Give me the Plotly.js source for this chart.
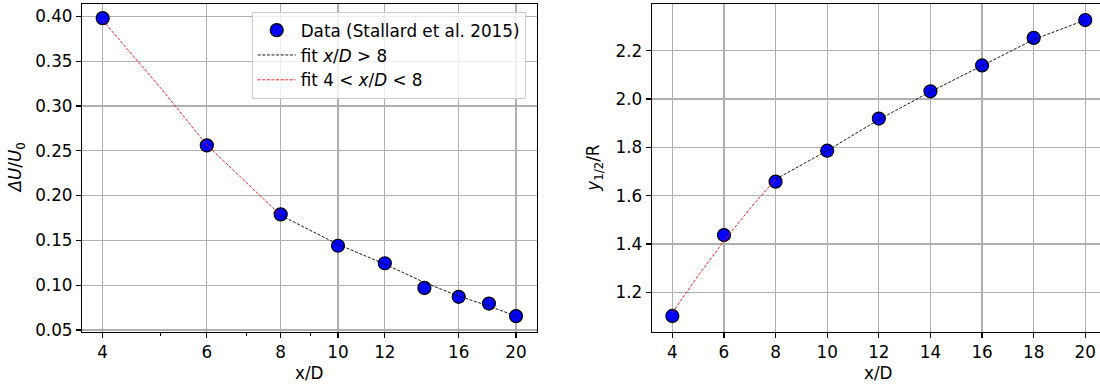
<!DOCTYPE html>
<html>
<head>
<meta charset="utf-8">
<script src="https://cdn.plot.ly/plotly-3.0.1.min.js"></script>
<style>html,body{margin:0;padding:0;background:#fff;}#chart{width:1100px;height:389px;}</style>
</head>
<body>
<div id="chart"></div>
<script>
// ---- data ----
const xData = [4, 6, 8, 10, 12, 14, 16, 18, 20];
const deficitData = [0.398, 0.256, 0.179, 0.144, 0.1245, 0.097, 0.087, 0.0795, 0.0655];
const halfWidthData = [1.102, 1.437, 1.658, 1.786, 1.919, 2.032, 2.139, 2.253, 2.327];

const xFitNear = [4, 5, 6, 7, 8];
const deficitFitNear = [0.3955, 0.321, 0.2565, 0.214, 0.178];
const halfWidthFitNear = [1.1156, 1.269, 1.4124, 1.545, 1.668];

const xFitFar = [8, 10, 12, 14, 16, 18, 20];
const deficitFitFar = [0.178, 0.1455, 0.1235, 0.103, 0.0878, 0.0767, 0.0655];
const halfWidthFitFar = [1.668, 1.786, 1.915, 2.03, 2.138, 2.246, 2.327];

const leftXTicks = [4, 6, 8, 10, 12, 16, 20];
const leftXMinor = [5, 7, 9];
const rightXTicks = [4, 6, 8, 10, 12, 14, 16, 18, 20];

const legendNames = ['Data (Stallard et al. 2015)', 'fit <i>x</i>/<i>D</i> &gt; 8', 'fit 4 &lt; <i>x</i>/<i>D</i> &lt; 8'];

// ---- styling ----
const W = 1100, H = 389;
const FONT = 'DejaVu Sans';
const FS = 16.8;
const px = v => v / W;
const py = v => 1 - v / H;

const markerStyle = {size: 13, color: '#0000ff', line: {color: '#000000', width: 1.2}};
const dashStyle = '3px,1.6px';

const traces = [
  {x: xData, y: deficitData, type: 'scatter', mode: 'markers', marker: markerStyle,
   name: legendNames[0], xaxis: 'x', yaxis: 'y', legendrank: 1},
  {x: xFitFar, y: deficitFitFar, type: 'scatter', mode: 'lines',
   line: {color: '#000000', width: 0.9, dash: dashStyle},
   name: legendNames[1], xaxis: 'x', yaxis: 'y', legendrank: 2},
  {x: xFitNear, y: deficitFitNear, type: 'scatter', mode: 'lines',
   line: {color: '#ff0000', width: 0.9, dash: dashStyle},
   name: legendNames[2], xaxis: 'x', yaxis: 'y', legendrank: 3},
  {x: xData, y: halfWidthData, type: 'scatter', mode: 'markers', marker: markerStyle,
   showlegend: false, xaxis: 'x2', yaxis: 'y2'},
  {x: xFitFar, y: halfWidthFitFar, type: 'scatter', mode: 'lines',
   line: {color: '#000000', width: 0.9, dash: dashStyle},
   showlegend: false, xaxis: 'x2', yaxis: 'y2'},
  {x: xFitNear, y: halfWidthFitNear, type: 'scatter', mode: 'lines',
   line: {color: '#ff0000', width: 0.9, dash: dashStyle},
   showlegend: false, xaxis: 'x2', yaxis: 'y2'}
];

const axisCommon = {
  showline: true, linecolor: '#000000', linewidth: 1.1,
  showgrid: true, gridcolor: '#b0b0b0', gridwidth: 1.1,
  zeroline: false, ticks: 'outside', ticklen: 5, tickwidth: 1.1, tickcolor: '#000000',
  tickfont: {family: FONT, size: FS, color: '#000000'}, automargin: false, fixedrange: true
};

const yDomain = [py(331.7), py(3.7)];

const layout = {
  width: W, height: H, autosize: false,
  margin: {l: 0, r: 0, t: 0, b: 0, pad: 0},
  paper_bgcolor: '#ffffff', plot_bgcolor: '#ffffff',
  font: {family: FONT, size: FS, color: '#000000'},
  showlegend: true,
  legend: {
    x: px(251.7), y: py(11.7), xanchor: 'left', yanchor: 'top',
    bgcolor: 'rgba(255,255,255,0.8)', bordercolor: '#cccccc', borderwidth: 1,
    font: {family: FONT, size: FS, color: '#000000'}, traceorder: 'normal',
    itemwidth: 38
  },
  xaxis: Object.assign({}, axisCommon, {
    type: 'log', domain: [px(82), px(536.7)],
    range: [Math.log10(4) - 0.035, Math.log10(20) + 0.035],
    tickmode: 'array', tickvals: leftXTicks, ticktext: leftXTicks.map(String),
    mirror: true, anchor: 'y',
    minor: {tickmode: 'array', tickvals: leftXMinor, ticks: 'outside', ticklen: 3, tickwidth: 1, tickcolor: '#000000', showgrid: false}
  }),
  yaxis: Object.assign({}, axisCommon, {
    domain: yDomain, range: [0.0481, 0.4141],
    tickmode: 'array', tickvals: [0.05, 0.10, 0.15, 0.20, 0.25, 0.30, 0.35, 0.40],
    tickformat: '.2f', mirror: true, anchor: 'x'
  }),
  xaxis2: Object.assign({}, axisCommon, {
    domain: [px(651.7), 1], range: [3.2, 20.57],
    tickmode: 'array', tickvals: rightXTicks, ticktext: rightXTicks.map(String),
    mirror: true, anchor: 'y2'
  }),
  yaxis2: Object.assign({}, axisCommon, {
    domain: yDomain, range: [1.0369, 2.3945],
    tickmode: 'array', tickvals: [1.2, 1.4, 1.6, 1.8, 2.0, 2.2],
    tickformat: '.1f', mirror: false, anchor: 'x2'
  }),
  annotations: [
    {text: '<i>ΔU</i>/<i>U</i><sub>0</sub>', xref: 'paper', yref: 'paper', x: px(16.7), y: py(167.7),
     textangle: -90, showarrow: false, xanchor: 'center', yanchor: 'middle', font: {family: FONT, size: FS, color: '#000000'}},
    {text: '<i>y</i><sub>1/2</sub>/R', xref: 'paper', yref: 'paper', x: px(595), y: py(167.7),
     textangle: -90, showarrow: false, xanchor: 'center', yanchor: 'middle', font: {family: FONT, size: FS, color: '#000000'}},
    {text: 'x/D', xref: 'paper', yref: 'paper', x: px(309.4), y: py(373),
     showarrow: false, xanchor: 'center', yanchor: 'middle', font: {family: FONT, size: FS, color: '#000000'}},
    {text: 'x/D', xref: 'paper', yref: 'paper', x: px(878.9), y: py(373),
     showarrow: false, xanchor: 'center', yanchor: 'middle', font: {family: FONT, size: FS, color: '#000000'}}
  ]
};

Plotly.newPlot('chart', traces, layout, {staticPlot: true, displayModeBar: false});
</script>
</body>
</html>
